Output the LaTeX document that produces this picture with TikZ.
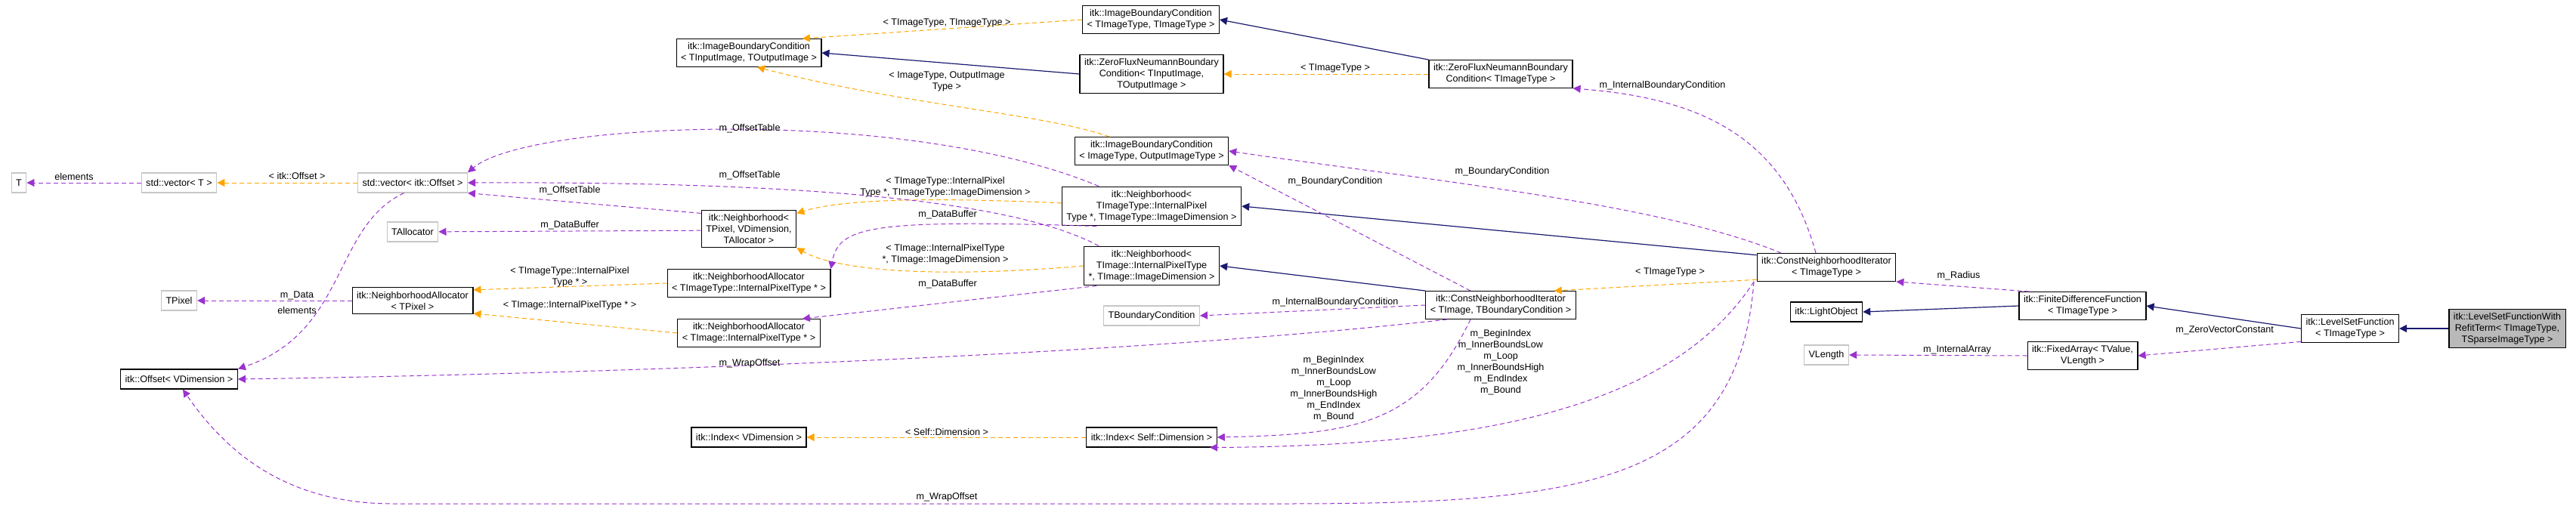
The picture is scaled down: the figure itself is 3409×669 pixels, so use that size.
\documentclass[tikz,border=0pt]{standalone}
\usepackage{fontspec}
\setmainfont{Liberation Sans}
\usetikzlibrary{arrows.meta}
\definecolor{inhblue}{RGB}{25,25,112}
\definecolor{usepurple}{RGB}{154,50,205}
\definecolor{tplorange}{RGB}{255,165,0}
\newcommand{\dgfont}{\fontsize{6.3}{7.5}\selectfont}
\tikzset{
  cls/.style={rectangle, draw=black, line width=0.6pt, align=center, font=\dgfont,
    inner xsep=3pt, inner ysep=2.5pt, minimum height=13pt},
  ext/.style={cls, draw=gray!45},
  focus/.style={cls, fill=gray!55},
  lbl/.style={font=\dgfont, align=center, inner sep=0.5pt},
  inh/.style={draw=inhblue, line width=0.6pt, -{Triangle[length=5pt,width=5pt]}},
  use/.style={draw=usepurple, line width=0.5pt, dash pattern=on 3pt off 2pt, -{Triangle[length=5pt,width=5pt]}},
  tpl/.style={draw=tplorange, line width=0.5pt, dash pattern=on 3pt off 2pt, -{Triangle[length=5pt,width=5pt]}}
}
\begin{document}
\begin{tikzpicture}[x=0.5pt, y=-0.5pt]
\useasboundingbox (0,0) rectangle (3409,669);
% classes
\node[ext] (T) at (25,242) {T};
\node[ext] (vecT) at (237,242) {std::vector\textless{} T \textgreater};
\node[ext] (vecOff) at (546,242) {std::vector\textless{} itk::Offset \textgreater};
\node[ext] (talloc) at (546,307) {TAllocator};
\node[ext] (pix) at (237,398) {TPixel};
\node[cls] (allocP) at (546,398) {itk::NeighborhoodAllocator\\\textless{} TPixel \textgreater};
\node[cls] (offV) at (237,502) {itk::Offset\textless{} VDimension \textgreater};
\node[cls] (ibcIO) at (991,70) {itk::ImageBoundaryCondition\\\textless{} TInputImage, TOutputImage \textgreater};
\node[cls] (nbP) at (991,303) {itk::Neighborhood\textless\\TPixel, VDimension,\\TAllocator \textgreater};
\node[cls] (allocTT) at (991,375) {itk::NeighborhoodAllocator\\\textless{} TImageType::InternalPixelType * \textgreater};
\node[cls] (allocT) at (991,441) {itk::NeighborhoodAllocator\\\textless{} TImage::InternalPixelType * \textgreater};
\node[cls] (idxV) at (991,579) {itk::Index\textless{} VDimension \textgreater};
\node[cls] (ibcTT) at (1523,26) {itk::ImageBoundaryCondition\\\textless{} TImageType, TImageType \textgreater};
\node[cls] (zfnIO) at (1524,98) {itk::ZeroFluxNeumannBoundary\\Condition\textless{} TInputImage,\\TOutputImage \textgreater};
\node[cls] (zfnT) at (1986,98) {itk::ZeroFluxNeumannBoundary\\Condition\textless{} TImageType \textgreater};
\node[cls] (ibcOI) at (1524,200) {itk::ImageBoundaryCondition\\\textless{} ImageType, OutputImageType \textgreater};
\node[cls] (nbTT) at (1524,273) {itk::Neighborhood\textless\\TImageType::InternalPixel\\Type *, TImageType::ImageDimension \textgreater};
\node[cls] (nbT) at (1524,352) {itk::Neighborhood\textless\\TImage::InternalPixelType\\*, TImage::ImageDimension \textgreater};
\node[ext] (tbc) at (1524,418) {TBoundaryCondition};
\node[cls] (cniTI) at (1986,404) {itk::ConstNeighborhoodIterator\\\textless{} TImage, TBoundaryCondition \textgreater};
\node[cls] (idxS) at (1524,579) {itk::Index\textless{} Self::Dimension \textgreater};
\node[cls] (cniT) at (2417,354) {itk::ConstNeighborhoodIterator\\\textless{} TImageType \textgreater};
\node[cls] (light) at (2417,413) {itk::LightObject};
\node[ext] (vlen) at (2417,470) {VLength};
\node[cls] (fdf) at (2756,405) {itk::FiniteDifferenceFunction\\\textless{} TImageType \textgreater};
\node[cls] (fixA) at (2756,471) {itk::FixedArray\textless{} TValue,\\VLength \textgreater};
\node[cls] (lsf) at (3110,435) {itk::LevelSetFunction\\\textless{} TImageType \textgreater};
\node[focus] (lsfr) at (3318,435) {itk::LevelSetFunctionWith\\RefitTerm\textless{} TImageType,\\TSparseImageType \textgreater};
% inheritance
\draw[inh] (zfnT.north west) -- (ibcTT.east);
\draw[inh] (zfnIO.west) -- (ibcIO.east);
\draw[inh] (cniT.170) -- (nbTT.east);
\draw[inh] (cniTI.north west) -- (nbT.east);
\draw[inh] (fdf.west) -- (light.east);
\draw[inh] (lsf.west) -- (fdf.east);
\draw[inh] (lsfr.west) -- (lsf.east);
% template instances
\draw[tpl] (vecOff) -- (vecT);
\draw[tpl] (allocTT.west) -- (allocP.10);
\draw[tpl] (allocT.west) -- (allocP.-12);
\draw[tpl] (nbTT.178) .. controls (1250,262) and (1120,262) .. (nbP.18);
\draw[tpl] (nbT.west) .. controls (1250,368) and (1110,360) .. (nbP.south east);
\draw[tpl] (ibcTT.west) -- (ibcIO.15);
\draw[tpl] ([xshift=-28pt]ibcOI.north) .. controls (1380,150) and (1200,140) .. (ibcIO.-60);
\draw[tpl] (zfnT.west) -- (zfnIO.east);
\draw[tpl] (cniT.-170) -- (cniTI.15);
\draw[tpl] (idxS.west) -- (idxV.east);
% members
\draw[use] (vecT) -- (T);
\draw[use] (vecOff.-130) .. controls (440,300) and (460,440) .. (offV.north east);
\draw[use] (allocP) -- (pix);
\draw[use] (nbP.162) -- (vecOff.south east);
\draw[use] (nbP.182) -- (talloc);
\draw[use] ([xshift=-35pt]nbTT.north) .. controls (1200,140) and (700,160) .. (vecOff.north east);
\draw[use] ([xshift=-35pt]nbT.north) .. controls (1350,270) and (1100,240) .. (vecOff.east);
\draw[use] (nbTT.-160) .. controls (1150,290) and (1110,300) .. (allocTT.north east);
\draw[use] (nbT.-160) -- (allocT.15);
\draw[use] ([xshift=-20pt]cniTI.north) -- (ibcOI.south east);
\draw[use] ([xshift=-30pt]cniT.north) .. controls (2200,270) and (1900,240) .. (ibcOI.east);
\draw[use] ([xshift=-7pt]cniT.north) .. controls (2360,180) and (2250,130) .. (zfnT.south east);
\draw[use] (cniTI.west) -- (tbc.east);
\draw[use] (cniTI.-165) .. controls (1500,470) and (800,495) .. (offV.east);
\draw[use] ([xshift=-48pt]cniT.south) .. controls (2300,640) and (2100,667) .. (1700,667)
  -- (520,667) .. controls (380,667) and (300,600) .. (offV.-70);
\draw[use] ([xshift=-20pt]cniTI.south) .. controls (1880,560) and (1800,575) .. (idxS.east);
\draw[use] ([xshift=-48pt]cniT.south) .. controls (2200,560) and (1900,590) .. (idxS.-10);
\draw[use] (fdf.165) -- (cniT.south east);
\draw[use] (lsf.-165) -- (fixA.east);
\draw[use] (fixA.west) -- (vlen.east);
% labels
\node[lbl] (lElem1) at (98,234) {elements};
\node[lbl] (lElem2) at (393,411) {elements};
\node[lbl] (lData) at (393,391) {m\_Data};
\node[lbl] (lOff1) at (754,252) {m\_OffsetTable};
\node[lbl] (lBuf1) at (754,298) {m\_DataBuffer};
\node[lbl] (lOff2) at (992,170) {m\_OffsetTable};
\node[lbl] (lOff3) at (992,232) {m\_OffsetTable};
\node[lbl] (lBuf2) at (1254,284) {m\_DataBuffer};
\node[lbl] (lBuf3) at (1254,376) {m\_DataBuffer};
\node[lbl] (lBc1) at (1767,240) {m\_BoundaryCondition};
\node[lbl] (lBc2) at (1988,227) {m\_BoundaryCondition};
\node[lbl] (lIbc1) at (2200,113) {m\_InternalBoundaryCondition};
\node[lbl] (lIbc2) at (1767,400) {m\_InternalBoundaryCondition};
\node[lbl] (lWrap1) at (992,481) {m\_WrapOffset};
\node[lbl] (lWrap2) at (1253,658) {m\_WrapOffset};
\node[lbl] (lIdx1) at (1765,515) {m\_BeginIndex\\m\_InnerBoundsLow\\m\_Loop\\m\_InnerBoundsHigh\\m\_EndIndex\\m\_Bound};
\node[lbl] (lIdx2) at (1986,480) {m\_BeginIndex\\m\_InnerBoundsLow\\m\_Loop\\m\_InnerBoundsHigh\\m\_EndIndex\\m\_Bound};
\node[lbl] (lRad) at (2592,365) {m\_Radius};
\node[lbl] (lZero) at (2944,437) {m\_ZeroVectorConstant};
\node[lbl] (lArr) at (2590,463) {m\_InternalArray};
\node[lbl] (tOff) at (393,233) {\textless{} itk::Offset \textgreater};
\node[lbl] (tAllocTT) at (754,367) {\textless{} TImageType::InternalPixel\\Type * \textgreater};
\node[lbl] (tAllocT) at (754,404) {\textless{} TImage::InternalPixelType * \textgreater};
\node[lbl] (tNbTT) at (1251,248) {\textless{} TImageType::InternalPixel\\Type *, TImageType::ImageDimension \textgreater};
\node[lbl] (tNbT) at (1251,337) {\textless{} TImage::InternalPixelType\\*, TImage::ImageDimension \textgreater};
\node[lbl] (tIbcTT) at (1253,30) {\textless{} TImageType, TImageType \textgreater};
\node[lbl] (tIbcOI) at (1253,108) {\textless{} ImageType, OutputImage\\Type \textgreater};
\node[lbl] (tZfn) at (1767,90) {\textless{} TImageType \textgreater};
\node[lbl] (tCni) at (2210,360) {\textless{} TImageType \textgreater};
\node[lbl] (tIdx) at (1253,572) {\textless{} Self::Dimension \textgreater};
\end{tikzpicture}
\end{document}
